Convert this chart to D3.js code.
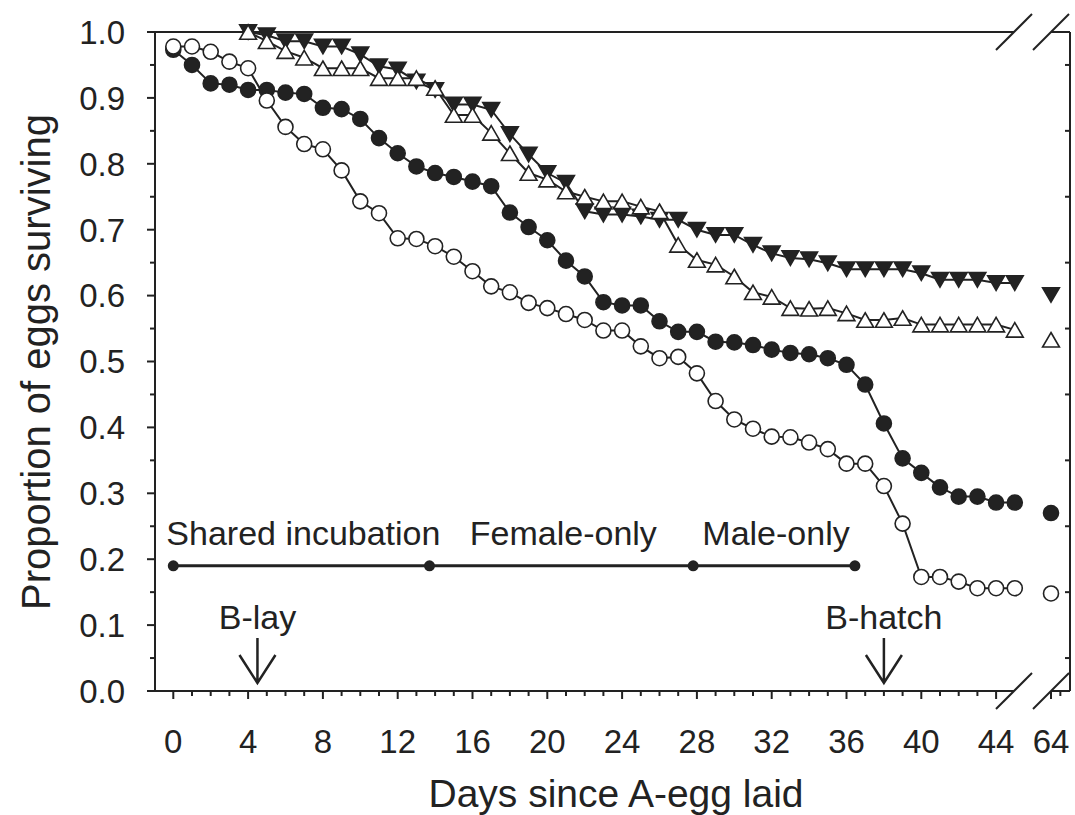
<!DOCTYPE html>
<html>
<head>
<meta charset="utf-8">
<script src="https://cdn.jsdelivr.net/npm/d3@7"></script>
<style>
  body { margin: 0; background: #fff; }
  svg text { font-family: Arial, "Liberation Sans", sans-serif; fill: #222; }
</style>
</head>
<body>
<svg id="chart"></svg>
<script>
// days 0..45, plus the separate day-64 point
const days = d3.range(0, 46);
const triDays = d3.range(4, 46);
const lateDay = 64;

const filledCircle = [0.973, 0.950, 0.922, 0.920, 0.912, 0.912, 0.908, 0.906, 0.885, 0.883,
  0.868, 0.839, 0.816, 0.796, 0.786, 0.780, 0.773, 0.766, 0.726, 0.704,
  0.684, 0.653, 0.629, 0.590, 0.585, 0.585, 0.561, 0.545, 0.545, 0.530,
  0.529, 0.525, 0.518, 0.513, 0.511, 0.505, 0.495, 0.465, 0.406, 0.353,
  0.331, 0.309, 0.295, 0.295, 0.286, 0.286];
const openCircle = [0.978, 0.978, 0.970, 0.955, 0.945, 0.896, 0.856, 0.830, 0.822, 0.790,
  0.743, 0.725, 0.687, 0.686, 0.675, 0.659, 0.637, 0.614, 0.605, 0.589,
  0.581, 0.572, 0.563, 0.547, 0.547, 0.523, 0.505, 0.507, 0.482, 0.440,
  0.412, 0.398, 0.386, 0.385, 0.377, 0.367, 0.345, 0.345, 0.311, 0.254,
  0.173, 0.173, 0.166, 0.156, 0.156, 0.156];
const filledTriangle = [1.000, 0.995, 0.986, 0.986, 0.978, 0.978, 0.966, 0.948, 0.943, 0.925,
  0.912, 0.890, 0.890, 0.882, 0.845, 0.814, 0.786, 0.771, 0.728, 0.723,
  0.723, 0.720, 0.715, 0.715, 0.700, 0.692, 0.692, 0.677, 0.664, 0.657,
  0.655, 0.649, 0.640, 0.640, 0.640, 0.640, 0.634, 0.624, 0.624, 0.624,
  0.619, 0.619];
const openTriangle = [1.000, 0.986, 0.971, 0.961, 0.945, 0.945, 0.945, 0.930, 0.930, 0.930,
  0.915, 0.874, 0.874, 0.847, 0.816, 0.786, 0.776, 0.758, 0.750, 0.743,
  0.743, 0.735, 0.728, 0.677, 0.654, 0.647, 0.629, 0.605, 0.598, 0.581,
  0.580, 0.581, 0.573, 0.563, 0.563, 0.566, 0.556, 0.556, 0.556, 0.556,
  0.556, 0.548];
const lateValues = { filledCircle: 0.270, openCircle: 0.148, filledTriangle: 0.601, openTriangle: 0.533 };

const xTickLabels = [0, 4, 8, 12, 16, 20, 24, 28, 32, 36, 40, 44, 64];
const yTickLabels = d3.range(0, 11).map(i => i / 10);

const phases = [
  { label: "Shared incubation", start: 0, end: 13.7 },
  { label: "Female-only", start: 13.7, end: 27.8 },
  { label: "Male-only", start: 27.8, end: 36.45 }
];
const phaseLevel = 0.19;
const events = [{ label: "B-lay", day: 4.5 }, { label: "B-hatch", day: 38 }];

const width = 1075, height = 815;
const ink = "#222";
const plotLeft = 155, plotRight = 1070, plotTop = 32, plotBottom = 691;

const svg = d3.select("#chart").attr("width", width).attr("height", height);

// broken x axis: 0..45 then a jump to 64
const x = d3.scaleLinear().domain([0, 45, 64, 65]).range([173.3, 1014.8, 1051, 1069.7]);
const y = d3.scaleLinear().domain([0, 1]).range([plotBottom, plotTop]);

const breakA = 1014, breakB = 1051;

// frame
const frame = svg.append("g").attr("stroke", ink).attr("stroke-width", 2).attr("fill", "none");
frame.append("line").attr("x1", plotLeft).attr("x2", plotLeft).attr("y1", plotTop).attr("y2", plotBottom);
frame.append("line").attr("x1", plotLeft).attr("x2", breakA).attr("y1", plotBottom).attr("y2", plotBottom);
frame.append("line").attr("x1", breakB).attr("x2", plotRight).attr("y1", plotBottom).attr("y2", plotBottom);
frame.append("line").attr("x1", plotLeft).attr("x2", breakA).attr("y1", plotTop).attr("y2", plotTop);
frame.append("line").attr("x1", breakB).attr("x2", plotRight).attr("y1", plotTop).attr("y2", plotTop);
frame.append("line").attr("x1", plotRight).attr("x2", plotRight).attr("y1", plotTop).attr("y2", plotBottom);

// break marks
[breakA, breakB].forEach(bx => {
  [plotTop, plotBottom].forEach(by => {
    frame.append("line")
      .attr("x1", bx - 18).attr("y1", by + 18)
      .attr("x2", bx + 18).attr("y2", by - 18);
  });
});

// x ticks
const xTicks = days.slice(0, 45).concat([64, 64.5]);
svg.append("g").attr("stroke", ink).attr("stroke-width", 2)
  .selectAll("line").data(xTicks).join("line")
  .attr("x1", d => x(d)).attr("x2", d => x(d))
  .attr("y1", plotBottom)
  .attr("y2", d => plotBottom + (xTickLabels.includes(d) ? 8 : 5));

svg.append("g").selectAll("text").data(xTickLabels).join("text")
  .attr("x", d => x(d)).attr("y", 753)
  .attr("text-anchor", "middle").attr("font-size", 33)
  .text(d => d);

// y ticks, left side outward, right side inward
const yMinor = d3.range(0, 21).map(i => i / 20);
svg.append("g").attr("stroke", ink).attr("stroke-width", 2)
  .selectAll("line").data(yMinor).join("line")
  .attr("y1", d => y(d)).attr("y2", d => y(d))
  .attr("x1", plotLeft)
  .attr("x2", (d, i) => plotLeft - (i % 2 === 0 ? 8 : 5));

svg.append("g").attr("stroke", ink).attr("stroke-width", 2)
  .selectAll("line").data(d3.range(0, 10).map(i => 0.05 + i / 10)).join("line")
  .attr("y1", d => y(d)).attr("y2", d => y(d))
  .attr("x1", plotRight).attr("x2", plotRight - 5);

svg.append("g").selectAll("text").data(yTickLabels).join("text")
  .attr("x", 125).attr("y", d => y(d)).attr("dy", "0.36em")
  .attr("text-anchor", "end").attr("font-size", 33)
  .text(d => d.toFixed(1));

// axis titles
svg.append("text")
  .attr("x", 616).attr("y", 807)
  .attr("text-anchor", "middle").attr("font-size", 39)
  .text("Days since A-egg laid");

svg.append("text")
  .attr("transform", "translate(50, 362) rotate(-90)")
  .attr("text-anchor", "middle").attr("font-size", 40)
  .text("Proportion of eggs surviving");

// phase bar
const phaseG = svg.append("g");
phaseG.selectAll("line").data(phases).join("line")
  .attr("x1", d => x(d.start)).attr("x2", d => x(d.end))
  .attr("y1", y(phaseLevel)).attr("y2", y(phaseLevel))
  .attr("stroke", ink).attr("stroke-width", 3);
const phaseEnds = [0].concat(phases.map(p => p.end));
phaseG.selectAll("circle").data(phaseEnds).join("circle")
  .attr("cx", d => x(d)).attr("cy", y(phaseLevel)).attr("r", 5.5).attr("fill", ink);
phaseG.selectAll("text").data(phases).join("text")
  .attr("x", d => (x(d.start) + x(d.end)) / 2 + 2).attr("y", 545)
  .attr("text-anchor", "middle").attr("font-size", 34)
  .text(d => d.label);

// event arrows
const evG = svg.append("g");
events.forEach(ev => {
  const ex = x(ev.day);
  evG.append("text").attr("x", ex).attr("y", 629)
    .attr("text-anchor", "middle").attr("font-size", 34).text(ev.label);
  evG.append("path")
    .attr("d", `M${ex},638 L${ex},683 M${ex - 18},655 L${ex},683 L${ex + 18},655`)
    .attr("fill", "none").attr("stroke", ink).attr("stroke-width", 2.5);
});

// markers
const triUp = s => `M0,${-s * 0.5}L${s * 0.58},${s * 0.5}L${-s * 0.58},${s * 0.5}Z`;
const triDown = s => `M0,${s * 0.5}L${s * 0.58},${-s * 0.5}L${-s * 0.58},${-s * 0.5}Z`;

const series = [
  { key: "filledCircle", xs: days, ys: filledCircle, shape: "circle", fill: ink },
  { key: "openCircle", xs: days, ys: openCircle, shape: "circle", fill: "#fff" },
  { key: "filledTriangle", xs: triDays, ys: filledTriangle, shape: "down", fill: ink },
  { key: "openTriangle", xs: triDays, ys: openTriangle, shape: "up", fill: "#fff" }
];

const line = d3.line().x(d => x(d[0])).y(d => y(d[1]));

series.forEach(s => {
  const pts = s.xs.map((d, i) => [d, s.ys[i]]);
  const g = svg.append("g");
  g.append("path").datum(pts).attr("d", line)
    .attr("fill", "none").attr("stroke", ink).attr("stroke-width", 2);
  const all = pts.concat([[lateDay, lateValues[s.key]]]);
  const marks = g.selectAll(".m").data(all).join(s.shape === "circle" ? "circle" : "path")
    .attr("fill", s.fill).attr("stroke", ink).attr("stroke-width", 1.6);
  if (s.shape === "circle") {
    marks.attr("cx", d => x(d[0])).attr("cy", d => y(d[1])).attr("r", 7.5);
  } else {
    const shape = s.shape === "up" ? triUp(14.5) : triDown(14.5);
    marks.attr("d", shape).attr("transform", d => `translate(${x(d[0])},${y(d[1])})`);
  }
});
</script>
</body>
</html>
